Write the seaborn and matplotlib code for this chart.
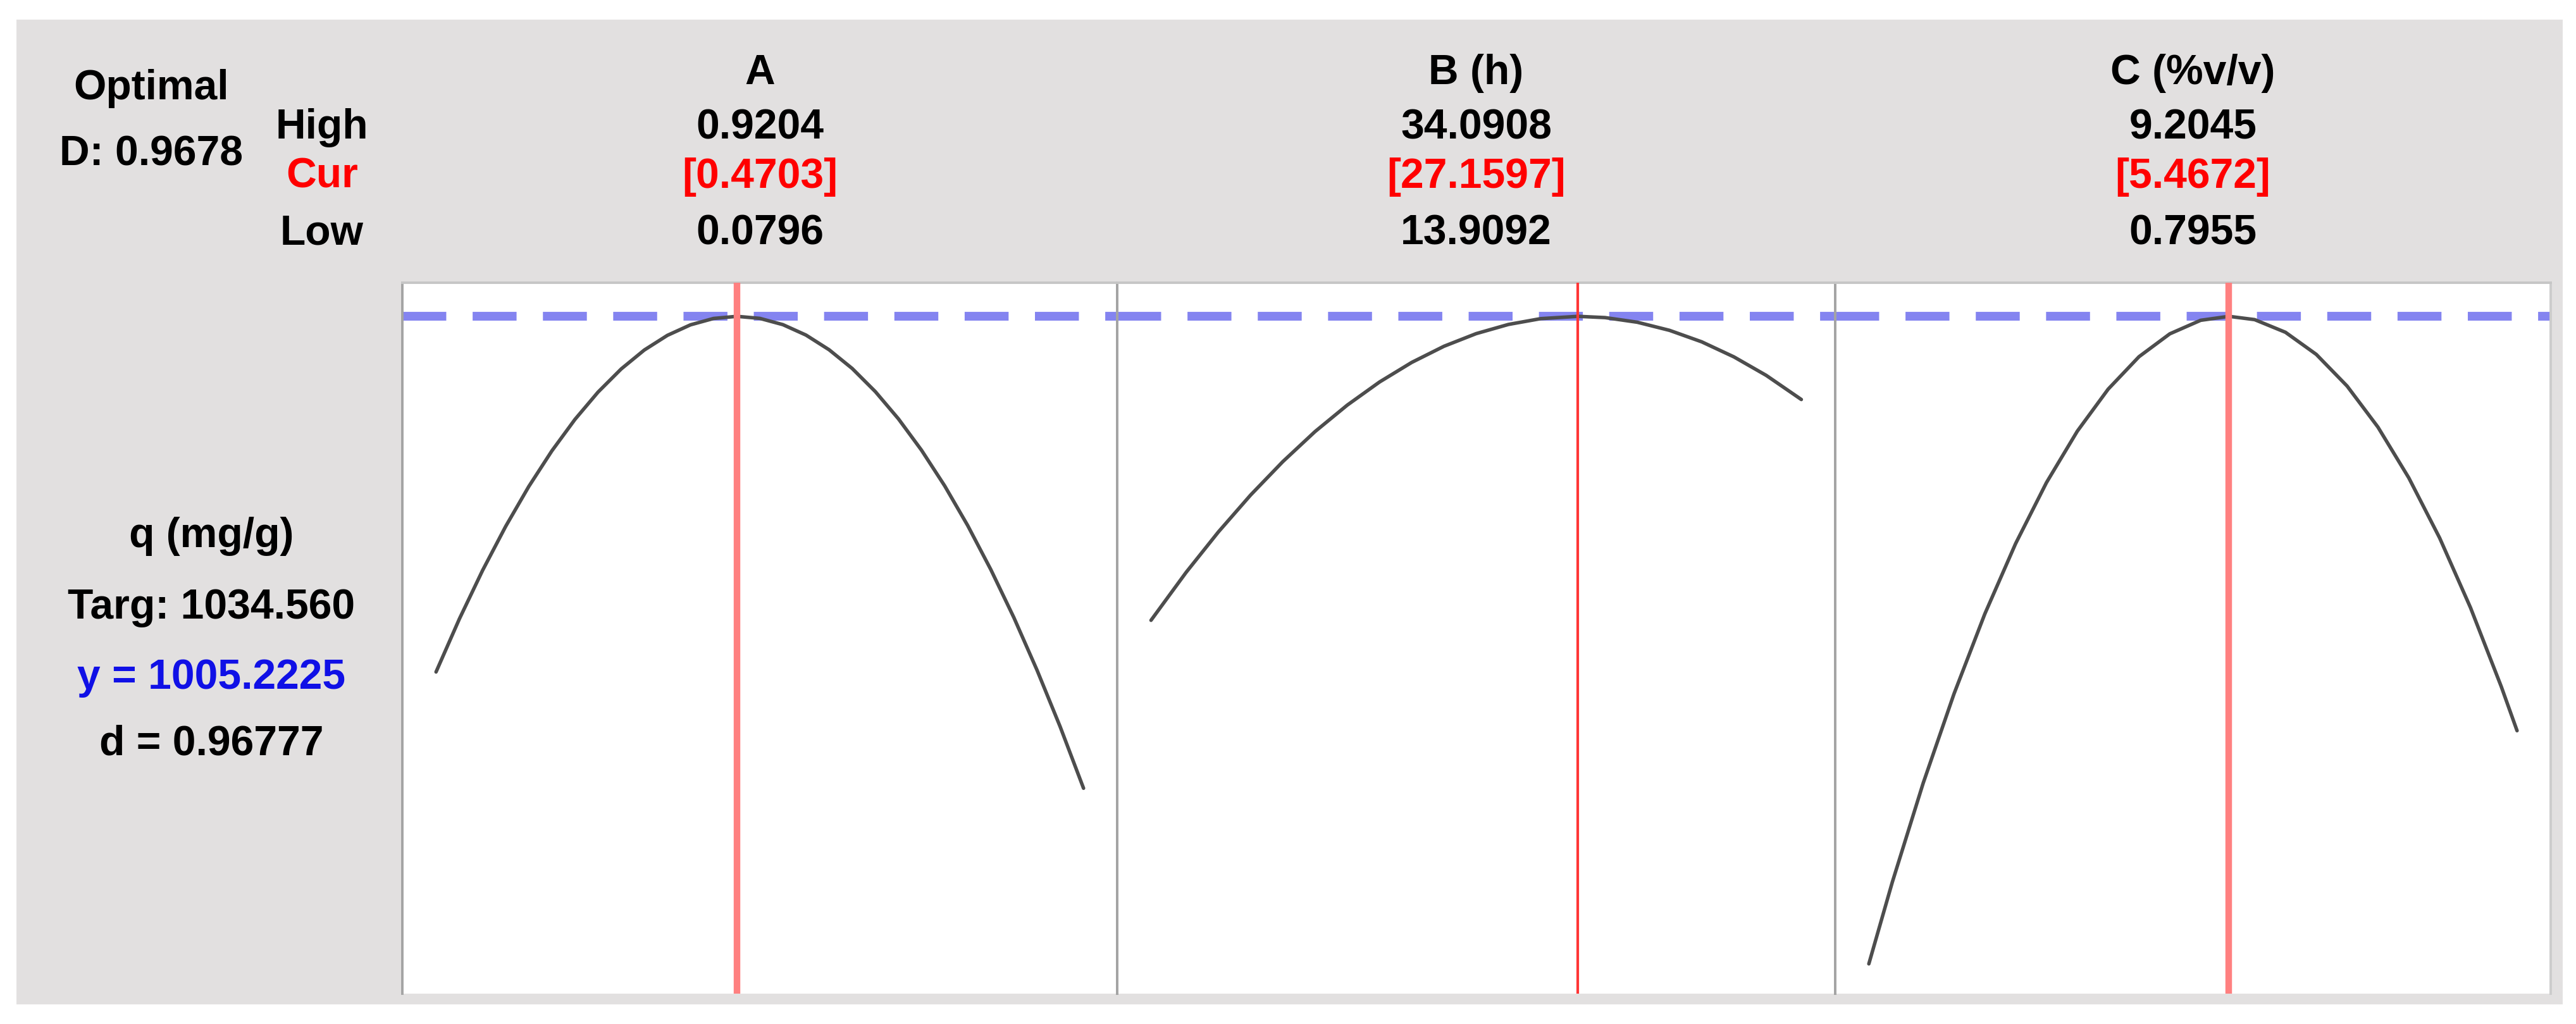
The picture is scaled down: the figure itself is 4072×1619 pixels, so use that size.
import numpy as np
import pandas as pd
import matplotlib.pyplot as plt
import seaborn as sns
from matplotlib.patches import Rectangle

# ---------------- data ----------------
factors = ["A", "B (h)", "C (%v/v)"]
high_txt = ["0.9204", "34.0908", "9.2045"]
cur_txt = ["[0.4703]", "[27.1597]", "[5.4672]"]
low_txt = ["0.0796", "13.9092", "0.7955"]

low = [0.0796, 13.9092, 0.7955]
high = [0.9204, 34.0908, 9.2045]
cur = [0.4703, 27.1597, 5.4672]

# response q (mg/g)
a_x = [0.0796, 0.11, 0.14, 0.17, 0.20, 0.23, 0.26, 0.29, 0.32, 0.35, 0.38, 0.41, 0.44,
       0.4703, 0.50, 0.53, 0.56, 0.59, 0.62, 0.65, 0.68, 0.71, 0.74, 0.77, 0.80, 0.83,
       0.86, 0.89, 0.9204]
a_q = [637.0, 692.1, 742.1, 787.7, 829.0, 865.9, 898.5, 926.8, 950.7, 970.3, 985.5, 996.4,
       1003.0, 1005.2, 1003.1, 996.6, 985.8, 970.6, 951.2, 927.3, 899.1, 866.6, 829.8,
       788.6, 743.0, 693.2, 638.9, 580.4, 516.6]

b_x = [13.9092, 15, 16, 17, 18, 19, 20, 21, 22, 23, 24, 25, 26, 27.1597,
       28, 29, 30, 31, 32, 33, 34.0908]
b_q = [690.5, 740.2, 782.0, 820.2, 854.8, 885.9, 913.3, 937.2, 957.5, 974.2, 987.3, 996.8,
       1002.8, 1005.2, 1003.9, 999.1, 990.7, 978.8, 963.2, 944.1, 919.1]

c_x = [0.7955, 1.1, 1.5, 1.9, 2.3, 2.7, 3.1, 3.5, 3.9, 4.3, 4.7, 5.1, 5.4672,
       5.8, 6.2, 6.6, 7.0, 7.4, 7.8, 8.2, 8.6, 9.0, 9.2045]
c_q = [334.8, 419.4, 521.8, 614.3, 697.1, 770.0, 833.1, 886.3, 929.8, 963.4, 987.1, 1001.1,
       1005.2, 1001.8, 988.7, 965.8, 933.0, 890.5, 838.0, 775.8, 703.7, 621.8, 576.2]

curves = [(a_x, a_q), (b_x, b_q), (c_x, c_q)]

y_pred = 1005.2225
q_min, q_max = 304, 1040

# ---------------- figure ----------------
sns.set_theme(style="white")
plt.rcParams["font.family"] = ["Liberation Sans", "DejaVu Sans"]
plt.rcParams["text.color"] = "black"

fig = plt.figure(figsize=(40.72, 16.19), dpi=100)
fig.patch.set_facecolor("white")
fig.add_artist(Rectangle((0.0064, 0.0191), 0.9885, 0.9618, transform=fig.transFigure,
                         facecolor="#e2e0e0", edgecolor="none", zorder=0))

edges = [0.1562, 0.4337, 0.7124, 0.9902]
bottom, top = 0.0297, 0.7239
red_col = ["#ff8080", "#ff3535", "#ff8080"]
red_lw = [7.5, 3.0, 7.5]
fs = 47.5

for i in range(3):
    ax = fig.add_axes([edges[i], bottom, edges[i + 1] - edges[i], top - bottom])
    ax.set_facecolor("white")
    df = pd.DataFrame({"x": curves[i][0], "q": curves[i][1]})
    sns.lineplot(data=df, x="x", y="q", ax=ax, color="#4d4d4d", lw=4, zorder=3)
    pad = (high[i] - low[i]) * 0.052
    ax.set_xlim(low[i] - pad, high[i] + pad)
    ax.set_ylim(q_min, q_max)
    ax.axhline(y_pred, color="#8484f0", lw=10, dashes=(5, 3), zorder=2)
    ax.axvline(cur[i], color=red_col[i], lw=red_lw[i], zorder=4)
    ax.set_xticks([])
    ax.set_yticks([])
    ax.set_xlabel("")
    ax.set_ylabel("")
    for s in ax.spines.values():
        s.set_color("#a4a4a4")
        s.set_linewidth(2.8)
    ax.spines["bottom"].set_visible(False)
    ax.spines["top"].set_color("#c6c6c6")
    if i == 2:
        ax.spines["right"].set_color("#cccccc")

    xc = (edges[i] + edges[i + 1]) / 2
    fig.text(xc, 0.9178, factors[i], ha="center", va="baseline", fontsize=fs, fontweight="bold")
    fig.text(xc, 0.8647, high_txt[i], ha="center", va="baseline", fontsize=fs, fontweight="bold")
    fig.text(xc, 0.8166, cur_txt[i], ha="center", va="baseline", fontsize=fs, fontweight="bold",
             color="#ff0000")
    fig.text(xc, 0.761, low_txt[i], ha="center", va="baseline", fontsize=fs, fontweight="bold")

# left header block
fig.text(0.0588, 0.903, "Optimal", ha="center", va="baseline", fontsize=fs, fontweight="bold")
fig.text(0.0586, 0.8382, "D: 0.9678", ha="center", va="baseline", fontsize=fs, fontweight="bold")
fig.text(0.1250, 0.8647, "High", ha="center", va="baseline", fontsize=fs, fontweight="bold")
fig.text(0.1250, 0.8166, "Cur", ha="center", va="baseline", fontsize=fs, fontweight="bold",
         color="#ff0000")
fig.text(0.1250, 0.761, "Low", ha="center", va="baseline", fontsize=fs, fontweight="bold")

# response block
fig.text(0.082, 0.4657, "q (mg/g)", ha="center", va="baseline", fontsize=fs, fontweight="bold")
fig.text(0.082, 0.3959, "Targ: 1034.560", ha="center", va="baseline", fontsize=fs,
         fontweight="bold")
fig.text(0.082, 0.3274, "y = 1005.2225", ha="center", va="baseline", fontsize=fs,
         fontweight="bold", color="#1010e6")
fig.text(0.082, 0.2631, "d = 0.96777", ha="center", va="baseline", fontsize=fs,
         fontweight="bold")

fig.savefig("out.png", dpi=100)
